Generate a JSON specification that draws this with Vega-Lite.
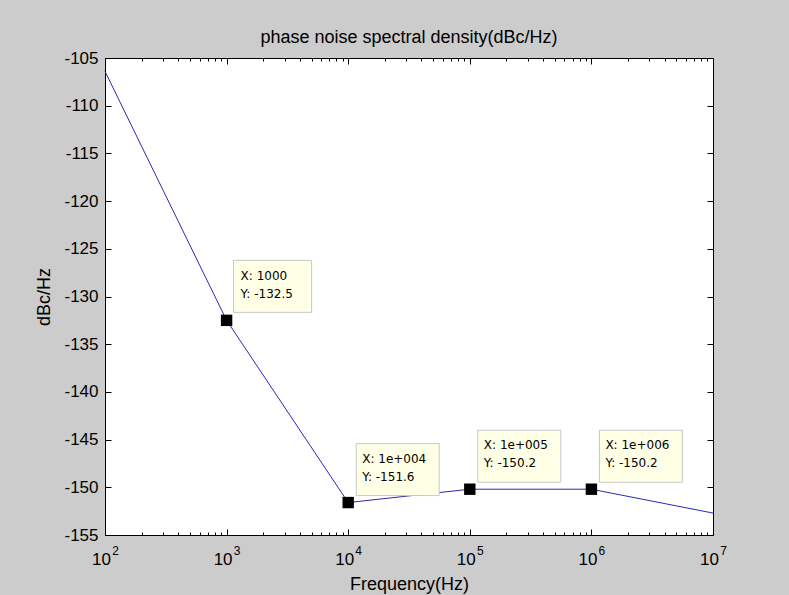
{
  "$schema": "https://vega.github.io/schema/vega-lite/v6.json",
  "width": 608,
  "height": 477,
  "autosize": {"type": "none"},
  "padding": {"left": 105, "top": 58, "right": 76, "bottom": 60},
  "background": "#CCCCCC",
  "title": {"text": "phase noise spectral density(dBc/Hz)", "font": "Liberation Sans", "fontSize": 18, "fontWeight": "normal", "color": "black", "anchor": "middle", "offset": 2},
  "config": {
    "view": {"fill": "white", "stroke": "black", "strokeWidth": 1},
    "axis": {"domain": false, "grid": false, "tickColor": "black", "tickWidth": 1, "labelColor": "black", "titleColor": "black", "labelFont": "Liberation Sans", "titleFont": "Liberation Sans", "labelFontSize": 17, "titleFontSize": 18, "titleFontWeight": "normal", "labelFlush": false}
  },
  "datasets": {
    "series": [
      {"freq": 100, "dbc": -106.4},
      {"freq": 1000, "dbc": -132.5},
      {"freq": 10000, "dbc": -151.6},
      {"freq": 100000, "dbc": -150.2},
      {"freq": 1000000, "dbc": -150.2},
      {"freq": 10000000, "dbc": -152.7}
    ],
    "tips": [
      {"freq": 1000, "dbc": -132.5, "tip": "X: 1000\nY: -132.5", "kind": "short"},
      {"freq": 10000, "dbc": -151.6, "tip": "X: 1e+004\nY: -151.6", "kind": "long"},
      {"freq": 100000, "dbc": -150.2, "tip": "X: 1e+005\nY: -150.2", "kind": "long"},
      {"freq": 1000000, "dbc": -150.2, "tip": "X: 1e+006\nY: -150.2", "kind": "long"}
    ]
  },
  "resolve": {"axis": {"x": "independent", "y": "independent"}},
  "layer": [
    {
      "data": {"name": "series"},
      "mark": {"type": "line", "color": "#2A2AB0", "strokeWidth": 1},
      "encoding": {
        "x": {"field": "freq", "type": "quantitative", "scale": {"type": "log", "domain": [100, 10000000], "nice": false},
          "axis": {"orient": "bottom", "values": [100, 1000, 10000, 100000, 1000000, 10000000], "tickSize": -6, "labelExpr": "'10'", "labelPadding": 22, "labelOffset": -4, "labelFontSize": 17, "title": "Frequency(Hz)", "titlePadding": 8}},
        "y": {"field": "dbc", "type": "quantitative", "scale": {"domain": [-155, -105], "nice": false, "zero": false},
          "axis": {"orient": "left", "values": [-155, -150, -145, -140, -135, -130, -125, -120, -115, -110, -105], "tickSize": -6, "labelPadding": 13, "labelExpr": "datum.value + ''", "title": "dBc/Hz", "titlePadding": 10}}
      }
    },
    {
      "data": {"name": "tips"},
      "transform": [{"filter": "datum.kind == 'short'"}],
      "mark": {"type": "rect", "fill": "#FFFFE6", "stroke": "#C8C8C8", "strokeWidth": 1, "xOffset": 7, "x2Offset": 85, "yOffset": -8, "y2Offset": -60},
      "encoding": {
        "x": {"field": "freq", "type": "quantitative", "scale": {"type": "log", "domain": [100, 10000000], "nice": false},
          "axis": {"orient": "bottom", "values": [200, 300, 400, 500, 600, 700, 800, 900, 2000, 3000, 4000, 5000, 6000, 7000, 8000, 9000, 20000, 30000, 40000, 50000, 60000, 70000, 80000, 90000, 200000, 300000, 400000, 500000, 600000, 700000, 800000, 900000, 2000000, 3000000, 4000000, 5000000, 6000000, 7000000, 8000000, 9000000], "tickSize": -3, "labels": false, "title": null}},
        "x2": {"field": "freq"},
        "y": {"field": "dbc", "type": "quantitative", "scale": {"domain": [-155, -105], "nice": false, "zero": false}, "axis": null},
        "y2": {"field": "dbc"}
      }
    },
    {
      "data": {"name": "tips"},
      "transform": [{"filter": "datum.kind == 'long'"}],
      "mark": {"type": "rect", "fill": "#FFFFE6", "stroke": "#C8C8C8", "strokeWidth": 1, "xOffset": 8, "x2Offset": 91, "yOffset": -7, "y2Offset": -59},
      "encoding": {
        "x": {"field": "freq", "type": "quantitative", "scale": {"type": "log", "domain": [100, 10000000], "nice": false},
          "axis": {"orient": "top", "values": [200, 300, 400, 500, 600, 700, 800, 900, 2000, 3000, 4000, 5000, 6000, 7000, 8000, 9000, 20000, 30000, 40000, 50000, 60000, 70000, 80000, 90000, 200000, 300000, 400000, 500000, 600000, 700000, 800000, 900000, 2000000, 3000000, 4000000, 5000000, 6000000, 7000000, 8000000, 9000000], "tickSize": -3, "labels": false, "title": null}},
        "x2": {"field": "freq"},
        "y": {"field": "dbc", "type": "quantitative", "scale": {"domain": [-155, -105], "nice": false, "zero": false}, "axis": null},
        "y2": {"field": "dbc"}
      }
    },
    {
      "data": {"name": "tips"},
      "mark": {"type": "text", "align": "left", "baseline": "top", "dx": 14, "dy": -49, "font": "DejaVu Sans", "fontSize": 12, "lineHeight": 18, "lineBreak": "\n", "color": "black"},
      "encoding": {
        "x": {"field": "freq", "type": "quantitative", "scale": {"type": "log", "domain": [100, 10000000], "nice": false},
          "axis": {"orient": "bottom", "values": [100, 1000, 10000, 100000, 1000000, 10000000], "ticks": false, "tickSize": 0, "labelExpr": "format(round(log(datum.value) / LN10), 'd')", "labelPadding": 10, "labelOffset": 10, "labelFontSize": 12, "title": null}},
        "y": {"field": "dbc", "type": "quantitative", "scale": {"domain": [-155, -105], "nice": false, "zero": false}, "axis": null},
        "text": {"field": "tip"}
      }
    },
    {
      "data": {"name": "tips"},
      "mark": {"type": "square", "color": "black", "filled": true, "opacity": 1, "size": 130},
      "encoding": {
        "x": {"field": "freq", "type": "quantitative", "scale": {"type": "log", "domain": [100, 10000000], "nice": false},
          "axis": {"orient": "top", "values": [100, 1000, 10000, 100000, 1000000, 10000000], "tickSize": -6, "labels": false, "title": null}},
        "y": {"field": "dbc", "type": "quantitative", "scale": {"domain": [-155, -105], "nice": false, "zero": false},
          "axis": {"orient": "right", "values": [-155, -150, -145, -140, -135, -130, -125, -120, -115, -110, -105], "tickSize": -6, "labels": false, "title": null}}
      }
    }
  ]
}
